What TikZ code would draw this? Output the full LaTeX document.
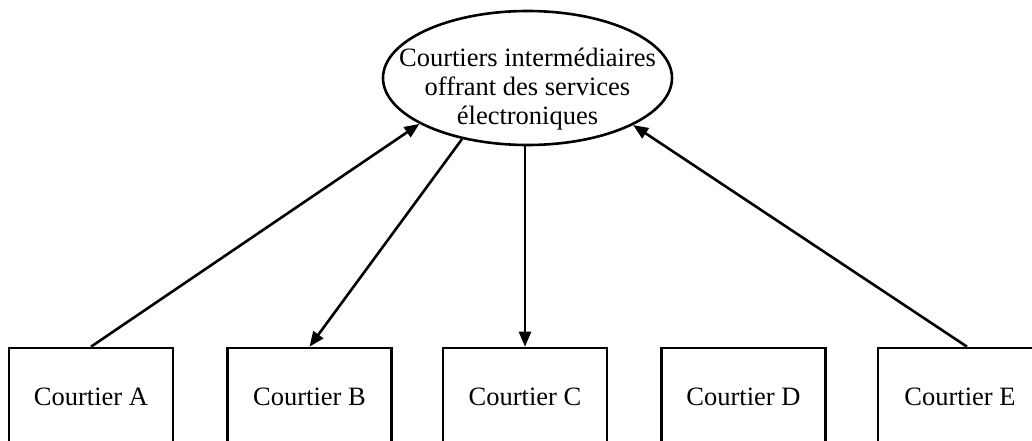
\documentclass[tikz,border=0pt]{standalone}
\usepackage{fontspec}
\setmainfont{Liberation Serif}
\usetikzlibrary{arrows.meta,shapes.geometric}
\begin{document}
\begin{tikzpicture}[x=1pt,y=-1pt,
  every node/.style={font=\fontsize{26.5}{29}\selectfont},
  boxnode/.style={draw,line width=2.6pt,rectangle,minimum width=164pt,minimum height=98pt,inner sep=0pt},
  ellnode/.style={draw,line width=2.6pt,ellipse,minimum width=289pt,minimum height=134pt,inner sep=0pt},
  conn/.style={line width=2.6pt,-{Triangle[length=15pt,width=12pt]}}]
\useasboundingbox (0,0) rectangle (1032,441);
\clip (0,0) rectangle (1032,441);
\node[ellnode] (ell) at (527.5,78) {};
\node[align=center,inner sep=0pt] (ellt) at (527.5,89) {Courtiers intermédiaires\\offrant des services\\électroniques};
\node[boxnode] (A) at (91,397) {Courtier A};
\node[boxnode] (B) at (309.5,397) {Courtier B};
\node[boxnode] (C) at (525,397) {Courtier C};
\node[boxnode] (D) at (743.5,397) {Courtier D};
\node[boxnode] (E) at (960,397) {Courtier E};
\draw[conn] (A.north) -- (ell.203.5);
\draw[conn] (ell.223) -- (B.north);
\draw[conn] (ell.south -| C.north) -- (C.north);
\draw[conn] ([xshift=7pt]E.north) -- (ell.336.5);
\end{tikzpicture}
\end{document}
